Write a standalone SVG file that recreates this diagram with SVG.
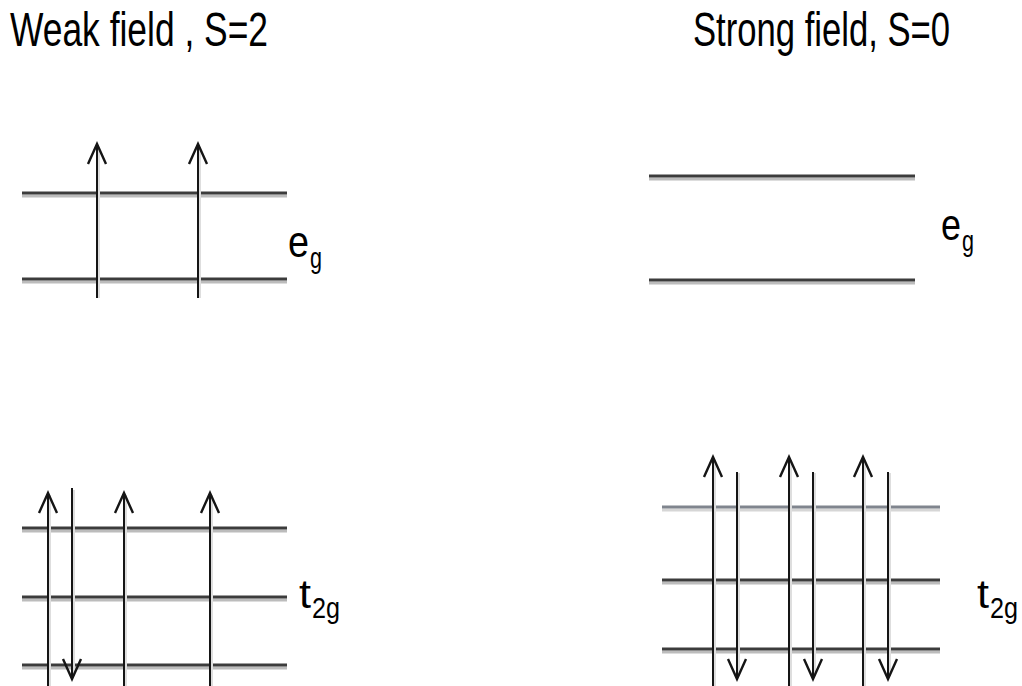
<svg xmlns="http://www.w3.org/2000/svg" width="1022" height="686" viewBox="0 0 1022 686">
<style>
.title{font-family:"Liberation Sans",Arial,sans-serif;font-size:48px;fill:#000}
.lab{font-family:"Liberation Sans",Arial,sans-serif;fill:#000}
.lvl{stroke:#3c3c3c;stroke-width:3;fill:none}
.lvlsh{stroke:#bcbcbc;stroke-width:3;fill:none}
.lvl2{stroke:#80858e;stroke-width:3;fill:none}
.lvl2sh{stroke:#d6d6d6;stroke-width:3;fill:none}
.el{stroke:#151515;stroke-width:2;fill:none;marker-end:url(#head)}
.elsh{stroke:#dedede;stroke-width:2;fill:none}
</style>
<defs>
<marker id="head" markerUnits="userSpaceOnUse" viewBox="-22 -11 24 22" markerWidth="24" markerHeight="22" refX="0" refY="0" orient="auto" overflow="visible">
<path d="M-20,-9 L0,0 L-20,9" fill="none" stroke="#151515" stroke-width="2.4"/>
</marker>
</defs>
<rect width="1022" height="686" fill="#fff"/>

<g id="title-weak"><text class="title" x="10" y="46" textLength="258" lengthAdjust="spacingAndGlyphs">Weak field , S=2</text></g>
<g id="title-strong"><text class="title" x="693" y="46" textLength="257" lengthAdjust="spacingAndGlyphs">Strong field, S=0</text></g>

<g id="weak-eg">
<line class="lvlsh" x1="22" y1="196" x2="287" y2="196"/>
<line class="lvl" x1="22" y1="193" x2="287" y2="193"/>
<line class="lvlsh" x1="22" y1="282" x2="287" y2="282"/>
<line class="lvl" x1="22" y1="279" x2="287" y2="279"/>
<text class="lab" x="288" y="257" font-size="44" textLength="21" lengthAdjust="spacingAndGlyphs">e</text>
<text class="lab" x="310" y="268" font-size="30" textLength="12" lengthAdjust="spacingAndGlyphs">g</text>
</g>

<g id="weak-t2g">
<line class="lvlsh" x1="22" y1="531" x2="287" y2="531"/>
<line class="lvl" x1="22" y1="528" x2="287" y2="528"/>
<line class="lvlsh" x1="22" y1="600" x2="287" y2="600"/>
<line class="lvl" x1="22" y1="597" x2="287" y2="597"/>
<line class="lvlsh" x1="22" y1="668" x2="287" y2="668"/>
<line class="lvl" x1="22" y1="665" x2="287" y2="665"/>
<text class="lab" x="299" y="608" font-size="40" textLength="12" lengthAdjust="spacingAndGlyphs">t</text>
<text class="lab" x="312" y="618" font-size="30" textLength="28" lengthAdjust="spacingAndGlyphs">2g</text>
</g>

<g id="strong-eg">
<line class="lvlsh" x1="649" y1="179" x2="915" y2="179"/>
<line class="lvl" x1="649" y1="176" x2="915" y2="176"/>
<line class="lvlsh" x1="649" y1="283" x2="915" y2="283"/>
<line class="lvl" x1="649" y1="280" x2="915" y2="280"/>
<text class="lab" x="941" y="240" font-size="44" textLength="20" lengthAdjust="spacingAndGlyphs">e</text>
<text class="lab" x="962" y="251" font-size="30" textLength="12" lengthAdjust="spacingAndGlyphs">g</text>
</g>

<g id="strong-t2g">
<line class="lvl2sh" x1="662" y1="510" x2="940" y2="510"/>
<line class="lvl2" x1="662" y1="507" x2="940" y2="507"/>
<line class="lvlsh" x1="662" y1="583" x2="940" y2="583"/>
<line class="lvl" x1="662" y1="580" x2="940" y2="580"/>
<line class="lvlsh" x1="662" y1="652" x2="940" y2="652"/>
<line class="lvl" x1="662" y1="649" x2="940" y2="649"/>
<text class="lab" x="977" y="608" font-size="40" textLength="12" lengthAdjust="spacingAndGlyphs">t</text>
<text class="lab" x="990" y="618" font-size="30" textLength="28" lengthAdjust="spacingAndGlyphs">2g</text>
</g>

<g id="connectors">
<line class="elsh" x1="99" y1="148" x2="99" y2="298"/>
<line class="el" x1="97" y1="298" x2="97" y2="144"/>
<line class="elsh" x1="200" y1="148" x2="200" y2="298"/>
<line class="el" x1="198" y1="298" x2="198" y2="144"/>

<line class="elsh" x1="50" y1="495" x2="50" y2="686"/>
<line class="el" x1="48" y1="686" x2="48" y2="493"/>
<line class="elsh" x1="74" y1="490" x2="74" y2="676"/>
<line class="el" x1="72" y1="488" x2="72" y2="679"/>
<line class="elsh" x1="126" y1="495" x2="126" y2="686"/>
<line class="el" x1="124" y1="686" x2="124" y2="493"/>
<line class="elsh" x1="212" y1="495" x2="212" y2="686"/>
<line class="el" x1="210" y1="686" x2="210" y2="493"/>

<line class="elsh" x1="715" y1="460" x2="715" y2="686"/>
<line class="el" x1="713" y1="686" x2="713" y2="457"/>
<line class="elsh" x1="739" y1="473" x2="739" y2="676"/>
<line class="el" x1="737" y1="472" x2="737" y2="679"/>
<line class="elsh" x1="791" y1="460" x2="791" y2="686"/>
<line class="el" x1="789" y1="686" x2="789" y2="457"/>
<line class="elsh" x1="815" y1="473" x2="815" y2="676"/>
<line class="el" x1="813" y1="472" x2="813" y2="679"/>
<line class="elsh" x1="865" y1="460" x2="865" y2="686"/>
<line class="el" x1="863" y1="686" x2="863" y2="457"/>
<line class="elsh" x1="890" y1="473" x2="890" y2="676"/>
<line class="el" x1="888" y1="472" x2="888" y2="679"/>
</g>
</svg>
